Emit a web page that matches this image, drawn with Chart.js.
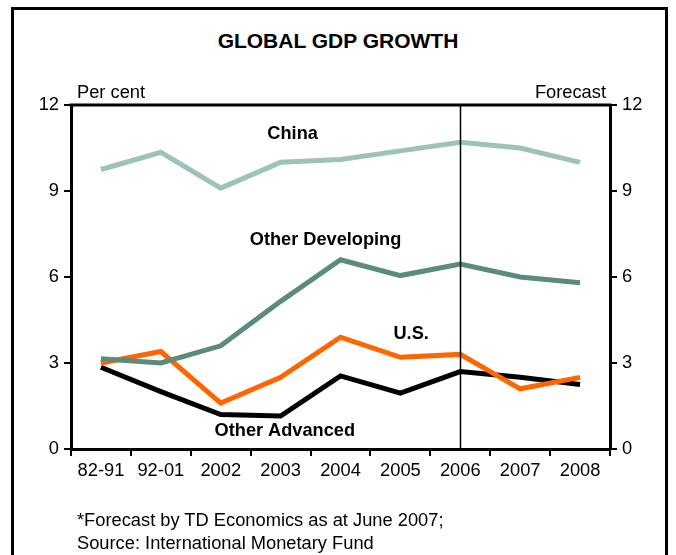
<!DOCTYPE html>
<html>
<head>
<meta charset="utf-8">
<script src="https://cdn.jsdelivr.net/npm/chart.js@4/dist/chart.umd.min.js"></script>
<style>
    html, body { margin: 0; padding: 0; background: #fff; }
    body { width: 676px; height: 555px; position: relative; overflow: hidden; font-family: "Liberation Sans", Arial, sans-serif; }
    #frame { position: absolute; left: 11px; top: 7px; width: 657px; height: 560px; border: 3px solid #000; box-sizing: border-box; }
    #title { position: absolute; left: 0; width: 676px; top: 29px; text-align: center; font-weight: bold; font-size: 21px; color: #000; }
    #note { position: absolute; left: 77px; top: 508px; font-size: 18.3px; line-height: 23px; color: #000; }
    canvas { position: absolute; left: 0; top: 0; }
</style>
</head>
<body>
<div id="frame"></div>
<div id="title">GLOBAL GDP GROWTH</div>
<canvas id="gdpChart" width="676" height="555"></canvas>
<div id="note">*Forecast by TD Economics as at June 2007;<br>Source: International Monetary Fund</div>
<script>
const periods = ['82-91', '92-01', '2002', '2003', '2004', '2005', '2006', '2007', '2008'];
const china = [9.75, 10.35, 9.1, 10.0, 10.1, 10.4, 10.7, 10.5, 10.0];
const otherDeveloping = [3.15, 3.0, 3.6, 5.15, 6.6, 6.05, 6.45, 6.0, 5.8];
const us = [3.0, 3.4, 1.6, 2.5, 3.9, 3.2, 3.3, 2.1, 2.5];
const otherAdvanced = [2.85, 2.0, 1.2, 1.15, 2.55, 1.95, 2.7, 2.5, 2.25];
const yTicks = [0, 3, 6, 9, 12];
const forecastStart = '2006';

// series names placed next to their lines, in data units (category index, per cent)
const seriesLabels = [
    { text: 'China', x: 3.2, y: 11.0 },
    { text: 'Other Developing', x: 3.75, y: 7.3 },
    { text: 'U.S.', x: 5.18, y: 4.0 },
    { text: 'Other Advanced', x: 3.07, y: 0.63 }
];

const font = { family: '"Liberation Sans", Arial, sans-serif', size: 18.3 };

const chartDecor = {
    id: 'chartDecor',
    afterDraw(chart) {
        const ctx = chart.ctx;
        const area = chart.chartArea;
        const x = chart.scales.x;
        const y = chart.scales.y;
        ctx.save();

        // top edge of the plot box
        ctx.strokeStyle = '#000';
        ctx.lineWidth = 3;
        ctx.beginPath();
        ctx.moveTo(area.left - 1.5, area.top);
        ctx.lineTo(area.right + 1.5, area.top);
        ctx.stroke();

        // forecast divider
        const fx = Math.round(x.getPixelForValue(periods.indexOf(forecastStart))) + 0.5;
        ctx.lineWidth = 1.5;
        ctx.beginPath();
        ctx.moveTo(fx, area.top);
        ctx.lineTo(fx, area.bottom);
        ctx.stroke();

        ctx.fillStyle = '#000';
        ctx.font = font.size + 'px ' + font.family;
        ctx.textBaseline = 'alphabetic';
        ctx.textAlign = 'left';
        ctx.fillText('Per cent', area.left + 6, area.top - 7);
        ctx.textAlign = 'right';
        ctx.fillText('Forecast', area.right - 4, area.top - 7);

        ctx.font = 'bold 18.2px ' + font.family;
        ctx.textAlign = 'center';
        ctx.textBaseline = 'middle';
        seriesLabels.forEach(l => {
            ctx.fillText(l.text, x.getPixelForValue(l.x), y.getPixelForValue(l.y));
        });
        ctx.restore();
    }
};

function line(label, data, color) {
    return {
        label: label,
        data: data,
        borderColor: color,
        backgroundColor: color,
        borderWidth: 5,
        pointRadius: 0,
        tension: 0,
        borderCapStyle: 'butt',
        borderJoinStyle: 'miter'
    };
}

function valueAxis(position, width) {
    return {
        type: 'linear',
        position: position,
        min: 0,
        max: 12,
        afterBuildTicks: scale => { scale.ticks = yTicks.map(v => ({ value: v })); },
        afterFit: scale => { scale.width = width; },
        ticks: { color: '#000', font: font, padding: 5 },
        grid: { drawOnChartArea: false, drawTicks: true, tickLength: 7, color: '#000', lineWidth: 2 },
        border: { display: true, color: '#000', width: 3 }
    };
}

document.addEventListener('DOMContentLoaded', () => {
    const ctx = document.getElementById('gdpChart').getContext('2d');
    new Chart(ctx, {
        type: 'line',
        data: {
            labels: periods,
            datasets: [
                line('China', china, '#9dc3b9'),
                line('Other Developing', otherDeveloping, '#5b8b79'),
                line('U.S.', us, '#ff6600'),
                line('Other Advanced', otherAdvanced, '#000000')
            ]
        },
        options: {
            responsive: false,
            devicePixelRatio: 1,
            animation: false,
            layout: { padding: { top: 105, left: 0, right: 0, bottom: 0 } },
            scales: {
                x: {
                    type: 'category',
                    offset: true,
                    afterFit: scale => { scale.height = 106; },
                    ticks: { color: '#000', font: font, padding: 4, maxRotation: 0, autoSkip: false },
                    grid: { offset: true, drawOnChartArea: false, drawTicks: true, tickLength: 7, color: '#000', lineWidth: 2 },
                    border: { display: true, color: '#000', width: 3 }
                },
                y: valueAxis('left', 71),
                y2: valueAxis('right', 66)
            },
            plugins: {
                legend: { display: false },
                tooltip: { enabled: false }
            }
        },
        plugins: [chartDecor]
    });
});
</script>
</body>
</html>
